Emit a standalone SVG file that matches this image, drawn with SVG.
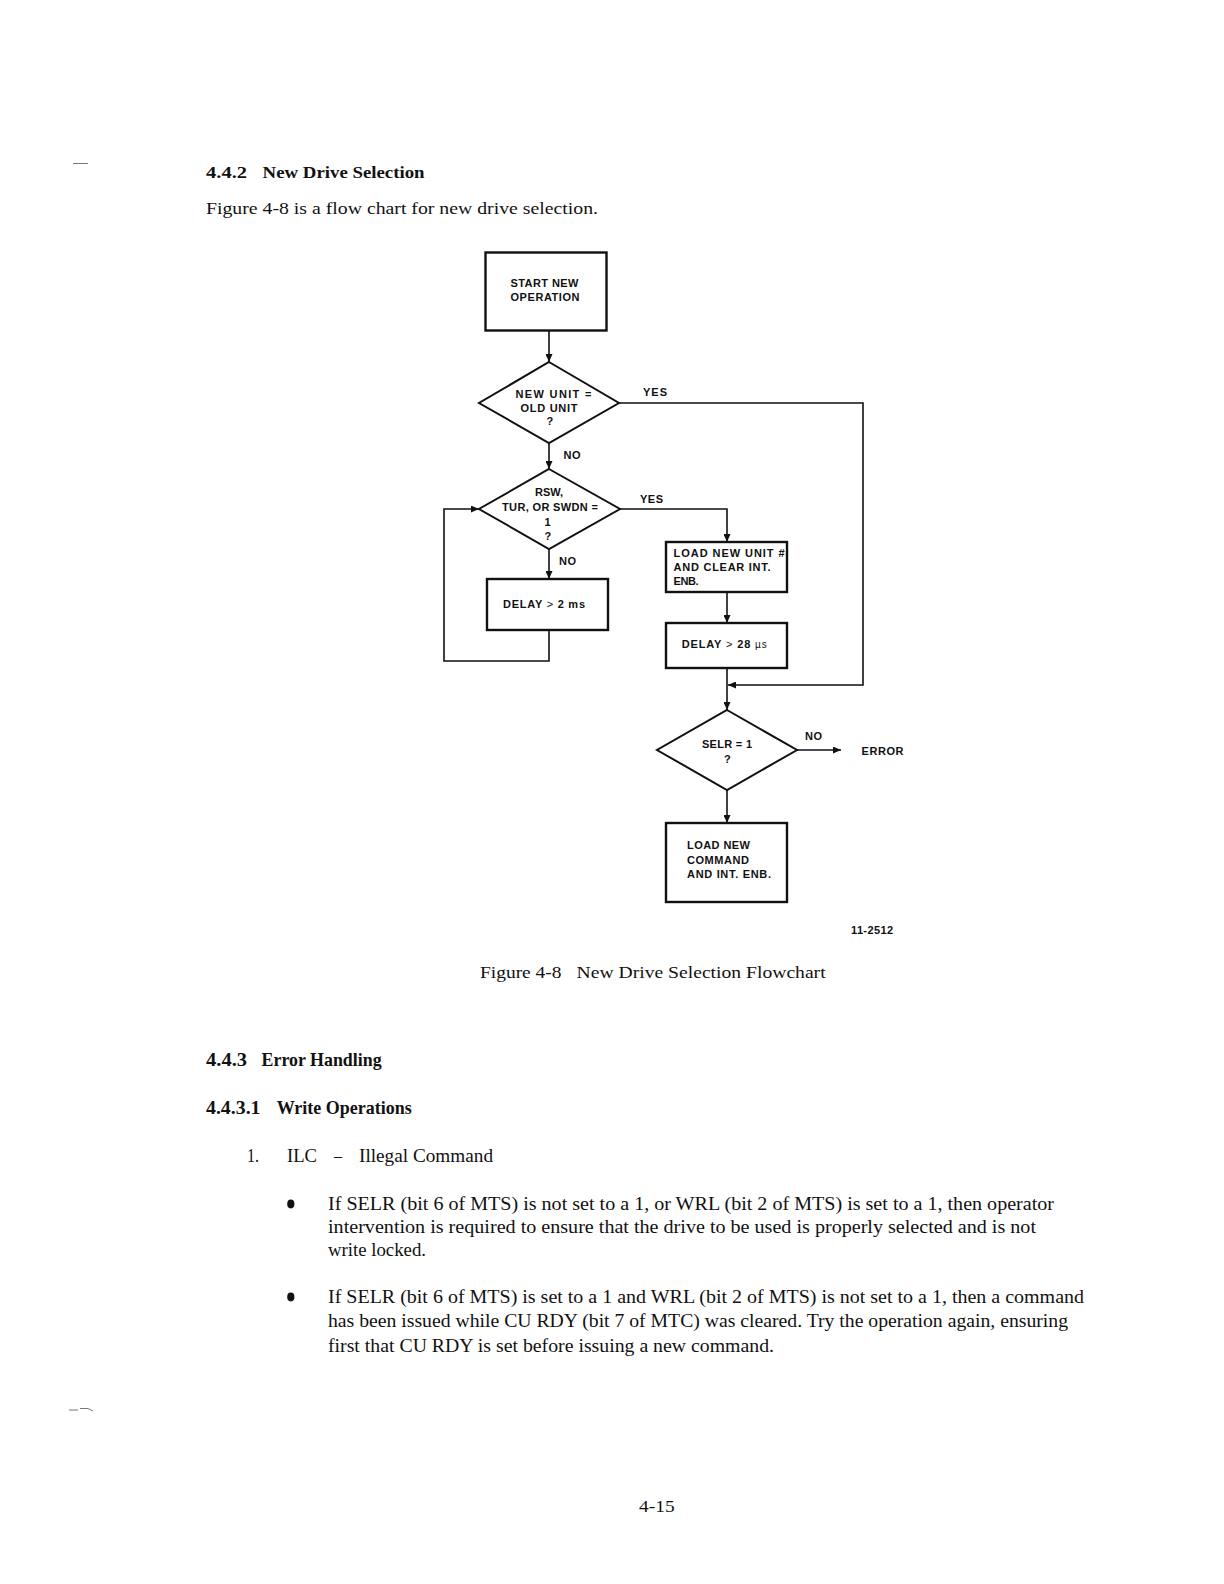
<svg xmlns="http://www.w3.org/2000/svg" width="1224" height="1584" viewBox="0 0 1224 1584">
<style>
.bg{fill:#ffffff}
.box{fill:none;stroke:#111;stroke-width:2.4}
.dia{fill:none;stroke:#111;stroke-width:2}
.con{fill:none;stroke:#111;stroke-width:1.6}
.lbl{font-family:"Liberation Sans",Arial,sans-serif;font-weight:bold;font-size:11px;fill:#111}
.thin{font-weight:normal}
.body{font-family:"Liberation Serif","Times New Roman",serif;font-size:17.5px;fill:#111}
.hd{font-family:"Liberation Serif","Times New Roman",serif;font-size:17.5px;font-weight:bold;fill:#111}
.cond{font-family:"Liberation Serif","Times New Roman",serif;font-size:19px;fill:#111}
.condb{font-family:"Liberation Serif","Times New Roman",serif;font-size:19px;font-weight:bold;fill:#111}
.mark{fill:none;stroke:#777;stroke-width:1}
</style>
<defs>
<marker id="arr" markerWidth="8" markerHeight="7" refX="8" refY="3.5" orient="auto" markerUnits="userSpaceOnUse">
<path d="M0,0 L8,3.5 L0,7 z" fill="#111"/>
</marker>
</defs>
<rect class="bg" x="0" y="0" width="1224" height="1584"/>

<g id="page-text">
<text class="hd" x="206" y="178" textLength="41" lengthAdjust="spacingAndGlyphs">4.4.2</text>
<text class="hd" x="262.6" y="178" textLength="162" lengthAdjust="spacingAndGlyphs">New Drive Selection</text>
<text class="body" x="206" y="214" textLength="392" lengthAdjust="spacingAndGlyphs">Figure 4-8 is a flow chart for new drive selection.</text>
<text class="body" x="480" y="978" textLength="81.5" lengthAdjust="spacingAndGlyphs">Figure 4-8</text>
<text class="body" x="576.6" y="978" textLength="249" lengthAdjust="spacingAndGlyphs">New Drive Selection Flowchart</text>
<text class="condb" x="206" y="1066" textLength="41" lengthAdjust="spacingAndGlyphs">4.4.3</text>
<text class="condb" x="261.6" y="1066" textLength="120" lengthAdjust="spacingAndGlyphs">Error Handling</text>
<text class="condb" x="206" y="1114" textLength="54.5" lengthAdjust="spacingAndGlyphs">4.4.3.1</text>
<text class="condb" x="276.7" y="1114" textLength="135" lengthAdjust="spacingAndGlyphs">Write Operations</text>
<text class="cond" x="247" y="1162" textLength="12" lengthAdjust="spacingAndGlyphs">1.</text>
<text class="cond" x="287" y="1162" textLength="30" lengthAdjust="spacingAndGlyphs">ILC</text>
<text class="cond" x="334" y="1162" textLength="8" lengthAdjust="spacingAndGlyphs">–</text>
<text class="cond" x="359" y="1162" textLength="134" lengthAdjust="spacingAndGlyphs">Illegal Command</text>
<ellipse cx="290.8" cy="1204" rx="3.6" ry="4.4" fill="#111"/>
<text class="cond" x="328" y="1210" textLength="726" lengthAdjust="spacingAndGlyphs">If SELR (bit 6 of MTS) is not set to a 1, or WRL (bit 2 of MTS) is set to a 1, then operator</text>
<text class="cond" x="328" y="1233" textLength="708" lengthAdjust="spacingAndGlyphs">intervention is required to ensure that the drive to be used is properly selected and is not</text>
<text class="cond" x="328" y="1256" textLength="98" lengthAdjust="spacingAndGlyphs">write locked.</text>
<ellipse cx="290.8" cy="1297" rx="3.6" ry="4.4" fill="#111"/>
<text class="cond" x="328" y="1303" textLength="756" lengthAdjust="spacingAndGlyphs">If SELR (bit 6 of MTS) is set to a 1 and WRL (bit 2 of MTS) is not set to a 1, then a command</text>
<text class="cond" x="328" y="1327" textLength="740" lengthAdjust="spacingAndGlyphs">has been issued while CU RDY (bit 7 of MTC) was cleared. Try the operation again, ensuring</text>
<text class="cond" x="328" y="1352" textLength="446" lengthAdjust="spacingAndGlyphs">first that CU RDY is set before issuing a new command.</text>
<text class="body" x="639" y="1512" textLength="35.6" lengthAdjust="spacingAndGlyphs">4-15</text>
<text class="lbl" x="851" y="934" font-size="9" textLength="42">11-2512</text>
<path class="mark" d="M73,163.5 H88"/>
<path class="mark" d="M69,1410 H78 M80,1408.5 H88 L93,1411"/>
</g>

<g id="connectors">
<path class="con" d="M549,331 V362" marker-end="url(#arr)"/>
<path class="con" d="M549,443 V469" marker-end="url(#arr)"/>
<path class="con" d="M549,549 V579" marker-end="url(#arr)"/>
<path class="con" d="M549,630 V661 H444 V509 H479" marker-end="url(#arr)"/>
<path class="con" d="M620,509 H727 V542" marker-end="url(#arr)"/>
<path class="con" d="M727,592 V623" marker-end="url(#arr)"/>
<path class="con" d="M727,668 V710" marker-end="url(#arr)"/>
<path class="con" d="M619,403 H863 V685 H728" marker-end="url(#arr)"/>
<path class="con" d="M797,750 H841" marker-end="url(#arr)"/>
<path class="con" d="M727,790 V823" marker-end="url(#arr)"/>
<text class="lbl" x="643" y="396" textLength="24">YES</text>
<text class="lbl" x="563.5" y="459" textLength="17">NO</text>
<text class="lbl" x="640" y="503" textLength="23">YES</text>
<text class="lbl" x="559" y="565" textLength="17">NO</text>
<text class="lbl" x="805" y="740" textLength="17">NO</text>
<text class="lbl" x="861.5" y="755" textLength="42">ERROR</text>
</g>

<g id="start">
<rect class="box" x="485.5" y="252.5" width="121" height="78"/>
<text class="lbl" x="510.5" y="287" textLength="68">START NEW</text>
<text class="lbl" x="510.5" y="301" textLength="69">OPERATION</text>
</g>

<g id="dec-unit">
<polygon class="dia" points="549,362 619,403 549,443 479,403"/>
<text class="lbl" x="515.5" y="398" textLength="76">NEW UNIT =</text>
<text class="lbl" x="520.5" y="412" textLength="57">OLD UNIT</text>
<text class="lbl" x="546.5" y="425">?</text>
</g>

<g id="dec-status">
<polygon class="dia" points="549,469 620,509 549,549 479,509"/>
<text class="lbl" x="535" y="496" font-size="10.5">RSW,</text>
<text class="lbl" x="502" y="511" textLength="96">TUR, OR SWDN =</text>
<text class="lbl" x="544.5" y="526">1</text>
<text class="lbl" x="544.5" y="540">?</text>
</g>

<g id="delay-2ms">
<rect class="box" x="487" y="579" width="121" height="51"/>
<text class="lbl" x="503" y="608" textLength="82">DELAY <tspan class="thin">&gt;</tspan> 2 ms</text>
</g>

<g id="load-unit">
<rect class="box" x="666" y="542" width="121" height="50"/>
<text class="lbl" x="673.6" y="557" textLength="111">LOAD NEW UNIT #</text>
<text class="lbl" x="673.6" y="571" textLength="97">AND CLEAR INT.</text>
<text class="lbl" x="673.6" y="585" textLength="25">ENB.</text>
</g>

<g id="delay-28us">
<rect class="box" x="666" y="623" width="121" height="45"/>
<text class="lbl" x="681.7" y="648" textLength="85">DELAY <tspan class="thin">&gt;</tspan> 28 <tspan class="thin" font-size="10">µs</tspan></text>
</g>

<g id="dec-selr">
<polygon class="dia" points="727,710 797,750 727,790 657,750"/>
<text class="lbl" x="702" y="748" textLength="50">SELR = 1</text>
<text class="lbl" x="724" y="763">?</text>
</g>

<g id="load-command">
<rect class="box" x="666" y="823" width="121" height="79"/>
<text class="lbl" x="687" y="849" textLength="63">LOAD NEW</text>
<text class="lbl" x="687" y="864" textLength="62">COMMAND</text>
<text class="lbl" x="687" y="878" textLength="84">AND INT. ENB.</text>
</g>
</svg>
